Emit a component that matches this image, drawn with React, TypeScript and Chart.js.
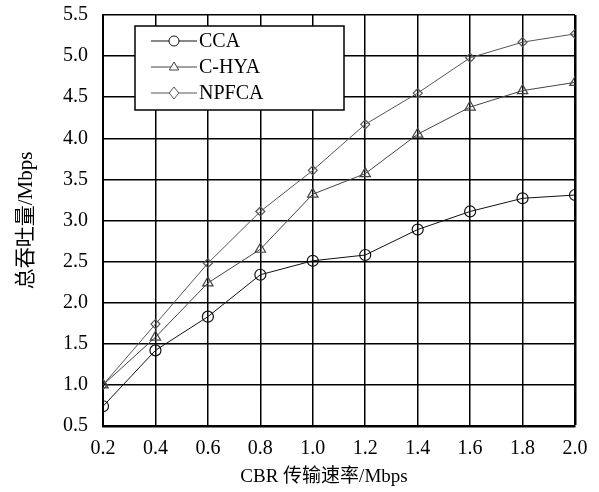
import React, { useEffect, useRef } from "react";
import { Chart, registerables } from "chart.js";

Chart.register(...registerables);

const rates = [0.2, 0.4, 0.6, 0.8, 1.0, 1.2, 1.4, 1.6, 1.8, 2.0];
const ccaValues = [0.74, 1.42, 1.83, 2.34, 2.51, 2.58, 2.89, 3.11, 3.27, 3.31];
const chyaValues = [1.0, 1.58, 2.24, 2.65, 3.32, 3.57, 4.05, 4.38, 4.58, 4.68];
const npfcaValues = [1.0, 1.74, 2.48, 3.11, 3.61, 4.17, 4.55, 4.98, 5.17, 5.27];
const seriesNames = ["CCA", "C-HYA", "NPFCA"];
const xTitle = "CBR 传输速率/Mbps";
const yTitle = "总吞吐量/Mbps";

const FONT = "'Liberation Serif', 'Times New Roman', 'Noto Sans CJK SC', serif";

function drawMarker(ctx: CanvasRenderingContext2D, style: string, x: number, y: number, r: number) {
  ctx.beginPath();
  if (style === "circle") {
    ctx.arc(x, y, r, 0, Math.PI * 2);
  } else if (style === "triangle") {
    ctx.moveTo(x, y - r);
    ctx.lineTo(x + r * 0.95, y + r * 0.6);
    ctx.lineTo(x - r * 0.95, y + r * 0.6);
    ctx.closePath();
  } else {
    ctx.moveTo(x, y - r);
    ctx.lineTo(x + r * 0.8, y);
    ctx.lineTo(x, y + r);
    ctx.lineTo(x - r * 0.8, y);
    ctx.closePath();
  }
  ctx.fillStyle = "#fff";
  ctx.fill();
  ctx.stroke();
}

const boxLegend = {
  id: "boxLegend",
  afterDraw(chart: any) {
    const { ctx, chartArea } = chart;
    const x0 = chartArea.left + 32;
    const y0 = chartArea.top + 11;
    const w = 209;
    const h = 84;
    ctx.save();
    ctx.fillStyle = "#fff";
    ctx.fillRect(x0, y0, w, h);
    ctx.strokeStyle = "#000";
    ctx.lineWidth = 1.5;
    ctx.strokeRect(x0, y0, w, h);
    chart.data.datasets.forEach((ds: any, i: number) => {
      const cy = y0 + 15 + i * 26;
      ctx.strokeStyle = ds.borderColor;
      ctx.lineWidth = 1;
      ctx.beginPath();
      ctx.moveTo(x0 + 16, cy);
      ctx.lineTo(x0 + 62, cy);
      ctx.stroke();
      drawMarker(ctx, ds.pointStyle, x0 + 39, cy, ds.legendR);
      ctx.fillStyle = "#000";
      ctx.font = "20px " + FONT;
      ctx.textBaseline = "middle";
      ctx.textAlign = "left";
      ctx.fillText(ds.label, x0 + 64, cy + 1);
    });
    // x-axis title, centred slightly left of the plot centre as in the original
    ctx.fillStyle = "#000";
    ctx.font = "19px " + FONT;
    ctx.textAlign = "center";
    ctx.textBaseline = "middle";
    ctx.fillText(xTitle, (chartArea.left + chartArea.right) / 2 - 15, chartArea.bottom + 51);
    ctx.restore();
  },
};

export default function App() {
  const ref = useRef<HTMLCanvasElement>(null);
  useEffect(() => {
    document.body.style.margin = "0";
    const mk = (vals: number[]) => rates.map((x, i) => ({ x, y: vals[i] }));
    const chart = new Chart(ref.current!, {
      type: "line",
      data: {
        datasets: [
          {
            label: seriesNames[0],
            data: mk(ccaValues),
            borderColor: "#111",
            pointBorderColor: "#111",
            pointBackgroundColor: "rgba(255,255,255,0)",
            pointStyle: "circle",
            pointRadius: 5.5,
            borderWidth: 1,
            pointBorderWidth: 1.2,
            legendR: 5,
          } as any,
          {
            label: seriesNames[1],
            data: mk(chyaValues),
            borderColor: "#444",
            pointBorderColor: "#444",
            pointBackgroundColor: "rgba(255,255,255,0)",
            pointStyle: "triangle",
            pointRadius: 6,
            borderWidth: 1,
            pointBorderWidth: 1.2,
            legendR: 5,
          } as any,
          {
            label: seriesNames[2],
            data: mk(npfcaValues),
            borderColor: "#555",
            pointBorderColor: "#555",
            pointBackgroundColor: "rgba(255,255,255,0)",
            pointStyle: "rectRot",
            pointRadius: 4.5,
            borderWidth: 1,
            pointBorderWidth: 1.2,
            legendR: 6,
          } as any,
        ],
      },
      options: {
        responsive: false,
        animation: false,
        layout: { padding: { top: 15, right: 24, left: 0, bottom: 0 } },
        plugins: { legend: { display: false }, tooltip: { enabled: false } },
        scales: {
          x: {
            type: "linear",
            min: 0.2,
            max: 2.0,
            afterFit: (s: any) => {
              s.height = 66;
              s.paddingLeft = 0;
              s.paddingRight = 0;
            },
            ticks: {
              stepSize: 0.2,
              padding: 11,
              color: "#000",
              font: { family: FONT, size: 20 },
              callback: (v: any) => Number(v).toFixed(1),
            },
            grid: {
              color: "#000",
              lineWidth: (c: any) => (c.index === rates.length - 1 ? 2.5 : 1.5),
              drawTicks: false,
            },
            border: { color: "#000", width: 2.5 },
            title: { display: false, text: xTitle },
          },
          y: {
            type: "linear",
            min: 0.5,
            max: 5.5,
            afterFit: (s: any) => {
              s.width = 103;
              s.paddingTop = 0;
              s.paddingBottom = 0;
            },
            ticks: {
              stepSize: 0.5,
              padding: 15,
              color: "#000",
              font: { family: FONT, size: 20 },
              callback: (v: any) => Number(v).toFixed(1),
            },
            grid: { color: "#000", lineWidth: 1.5, drawTicks: false },
            border: { color: "#000", width: 2 },
            title: {
              display: true,
              text: yTitle,
              color: "#000",
              font: { family: FONT, size: 21 },
              padding: { top: 14, bottom: 0 },
            },
          },
        },
      },
      plugins: [boxLegend],
    });
    return () => chart.destroy();
  }, []);
  return (
    <div style={{ width: 599, height: 492 }}>
      <canvas ref={ref} width={599} height={492} />
    </div>
  );
}
